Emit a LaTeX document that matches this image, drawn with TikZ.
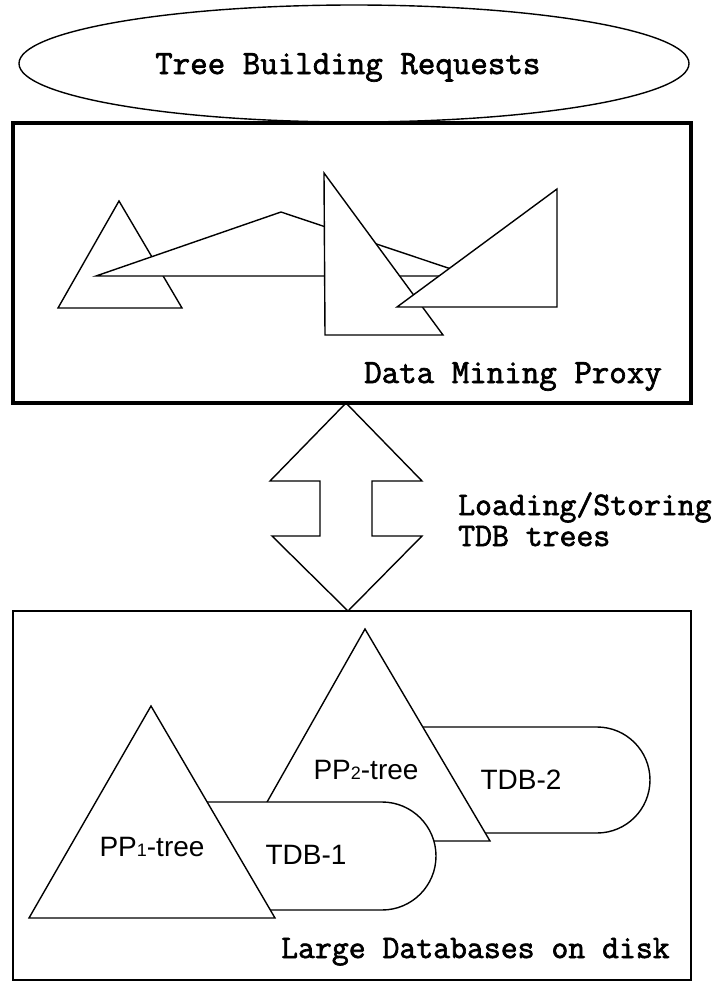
\documentclass[tikz,border=0pt]{standalone}
\usepackage{fontspec}
\setsansfont{Liberation Sans}
\newfontfamily\slabmono[FakeBold=2]{Latin Modern Mono}
\usetikzlibrary{shapes.geometric}
\begin{document}
\begin{tikzpicture}[x=1pt,y=-1pt,
  outline/.style={draw=black, line width=1.4pt, fill=white, line join=miter},
  mono/.style={font=\fontsize{34}{37}\selectfont\slabmono, inner sep=0pt},
  smallmono/.style={font=\fontsize{32.8}{36}\selectfont\slabmono, inner sep=0pt},
  sans/.style={font=\fontsize{28}{30}\selectfont\sffamily, inner sep=0pt},
]
\useasboundingbox (0,0) rectangle (728,983);

% requests ellipse
\node (req) [ellipse, draw, line width=1.4pt, minimum width=670pt, minimum height=117pt, inner sep=0pt] at (354,63.5) {};
\node (reqtext) [mono, anchor=base west] at (155,74) {Tree Building Requests};

% data mining proxy box with its trees
\node (proxy) [draw, line width=3.5pt, minimum width=678pt, minimum height=280pt, inner sep=0pt] at (352,263) {};
\filldraw[outline] (119,201) -- (182,308) -- (58,308) -- cycle;
\filldraw[outline] (96,276) -- (281,212) -- (472,276) -- cycle;
\filldraw[outline] (324,173) -- (443,335) -- (325,335) -- cycle;
\filldraw[outline] (397,307) -- (557,189) -- (557,307) -- cycle;
\node (proxytext) [mono, anchor=base west] at (364,383) {Data Mining Proxy};

% loading / storing double arrow
\coordinate (up) at (346,403);
\coordinate (dn) at (348,611);
\draw[line width=1.4pt, line join=miter]
  (up) -- (422,481) -- (372,481) -- (372,536) -- (422,536) -- (dn)
  -- (272,536) -- (320,536) -- (320,481) -- (270,481) -- cycle;
\node (load1) [smallmono, anchor=base west] at (458,515) {Loading/Storing};
\node (load2) [smallmono, anchor=base west] at (458,546) {TDB trees};

% large databases box
\node (disk) [draw, line width=2pt, minimum width=678pt, minimum height=369pt, inner sep=0pt] at (352,795.5) {};
\filldraw[outline] (420,727) -- (597,727) arc[start angle=-90, end angle=90, radius=53] -- (420,833) -- cycle;
\filldraw[outline] (365,629) -- (490,841) -- (245,841) -- cycle;
\filldraw[outline] (200,802) -- (382,802) arc[start angle=-90, end angle=90, radius=54] -- (200,910) -- cycle;
\filldraw[outline] (151,706) -- (275,918) -- (29,918) -- cycle;
\node (pp1) [sans] at (152,847) {PP{\fontsize{18}{20}\selectfont 1}-tree};
\node (pp2) [sans] at (366,770) {PP{\fontsize{18}{20}\selectfont 2}-tree};
\node (tdb1) [sans] at (306,855) {TDB-1};
\node (tdb2) [sans] at (521,780) {TDB-2};
\node (disktext) [smallmono, anchor=base west] at (281,958) {Large Databases on disk};
\end{tikzpicture}
\end{document}
